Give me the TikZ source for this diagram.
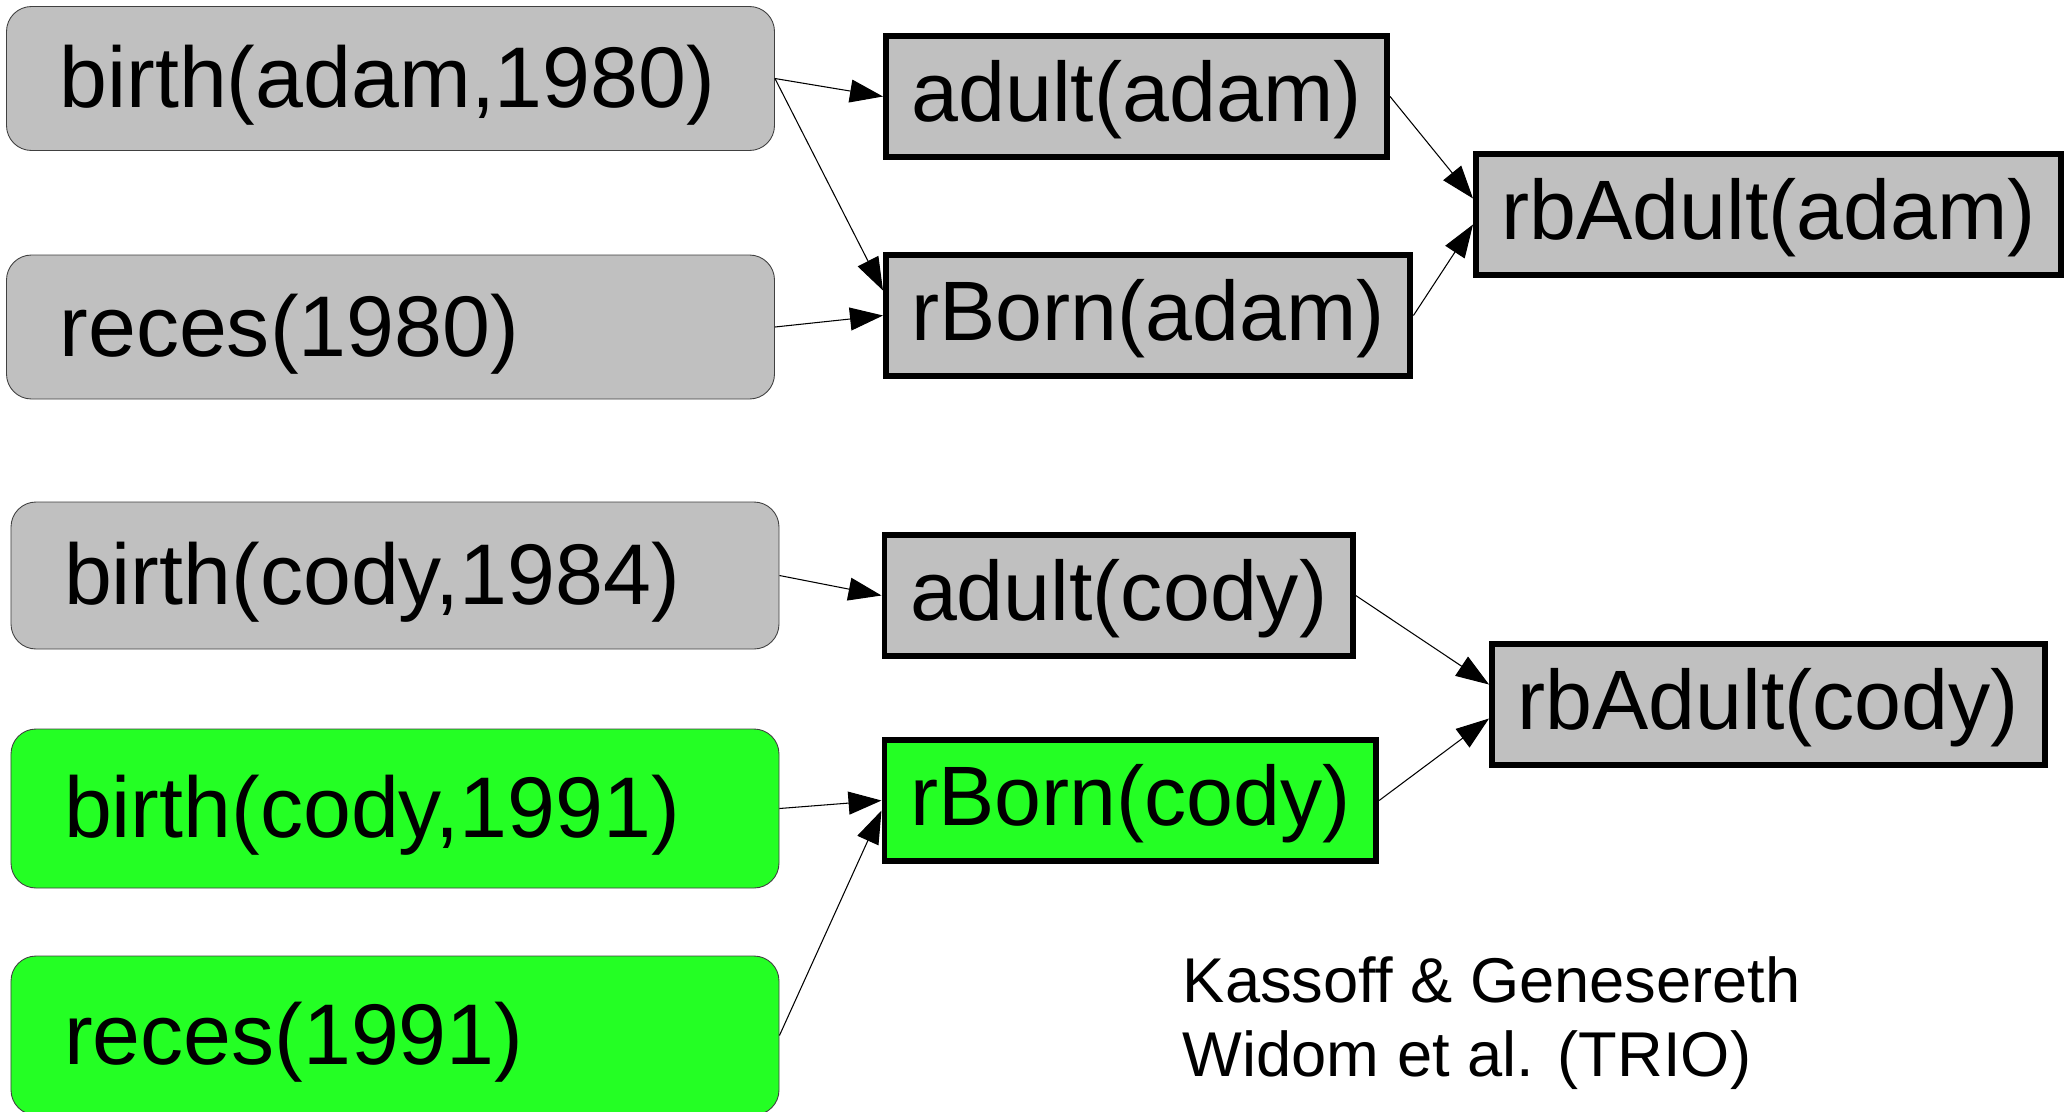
\documentclass[tikz,border=0pt]{standalone}
\usepackage{fontspec}
\setmainfont{Liberation Sans}
\usepackage{tikz}
\usetikzlibrary{arrows.meta, positioning}
\definecolor{factgray}{RGB}{192,192,192}
\definecolor{factgreen}{RGB}{36,255,36}
\tikzstyle{fact} = [rectangle, 
rounded corners=0.5cm, 
minimum width=15.36cm, 
minimum height=2.88cm, 
text width=13.24cm, 
text height=1.53cm, 
text depth=0.36cm, 
inner ysep=0.1cm, 
align=left, 
draw=black!75, 
line width=0.5pt, 
fill=factgray, 
font=\fontsize{49}{57}\selectfont]
\tikzstyle{derived} = [rectangle, 
minimum height=2.42cm, 
text height=1.37cm, 
text depth=0.354cm, 
inner xsep=0.51cm, 
inner ysep=0.1cm, 
draw=black, 
line width=3.4pt, 
fill=factgray, 
anchor=west, 
font=\fontsize{48}{56}\selectfont]
\tikzstyle{arrow} = [line width=0.6pt, -{Triangle[length=0.66cm, width=0.46cm]}]

\begin{document}
\begin{tikzpicture}[node distance=5cm]
    \useasboundingbox (0,0) rectangle (41.34,-22.22);

    \node (birthadam) [fact] at (7.81,-1.57) {birth(adam,1980)};
    \node (recesadam) [fact, below of=birthadam, yshift=0.03cm] {reces(1980)};
    \node (birthcody) [fact, minimum height=2.94cm] at (7.9,-11.51) {birth(cody,1984)};
    \node (birthcodyb) [fact, fill=factgreen, minimum height=3.18cm, below of=birthcody, yshift=0.34cm] {birth(cody,1991)};
    \node (recescody) [fact, fill=factgreen, minimum height=3.18cm, below of=birthcodyb, yshift=0.46cm] {reces(1991)};

    \node (adultadam) [derived] at (17.66,-1.93) {adult(adam)};
    \node (rbornadam) [derived] at (17.66,-6.31) {rBorn(adam)};
    \node (rbadultadam) [derived] at (29.46,-4.29) {rbAdult(adam)};
    \node (adultcody) [derived] at (17.63,-11.91) {adult(cody)};
    \node (rborncody) [derived, fill=factgreen] at (17.63,-16.01) {rBorn(cody)};
    \node (rbadultcody) [derived] at (29.78,-14.09) {rbAdult(cody)};

    \node (credits) [anchor=west, align=left, inner sep=0pt, font=\fontsize{36}{42}\selectfont] at (23.65,-20.47) {Kassoff \& Genesereth\\Widom et al. (TRIO)};

    \draw [arrow] (birthadam.east) -- (adultadam.west);
    \draw [arrow] (birthadam.east) -- ([yshift=0.5cm]rbornadam.west);
    \draw [arrow] (recesadam.east) -- (rbornadam.west);
    \draw [arrow] (adultadam.east) -- ([yshift=0.32cm]rbadultadam.west);
    \draw [arrow] (rbornadam.east) -- ([yshift=-0.2cm]rbadultadam.west);
    \draw [arrow] (birthcody.east) -- (adultcody.west);
    \draw [arrow] (adultcody.east) -- ([yshift=0.4cm]rbadultcody.west);
    \draw [arrow] (birthcodyb.east) -- (rborncody.west);
    \draw [arrow] (recescody.east) -- ([yshift=-0.2cm]rborncody.west);
    \draw [arrow] (rborncody.east) -- ([yshift=-0.28cm]rbadultcody.west);
\end{tikzpicture}
\end{document}
